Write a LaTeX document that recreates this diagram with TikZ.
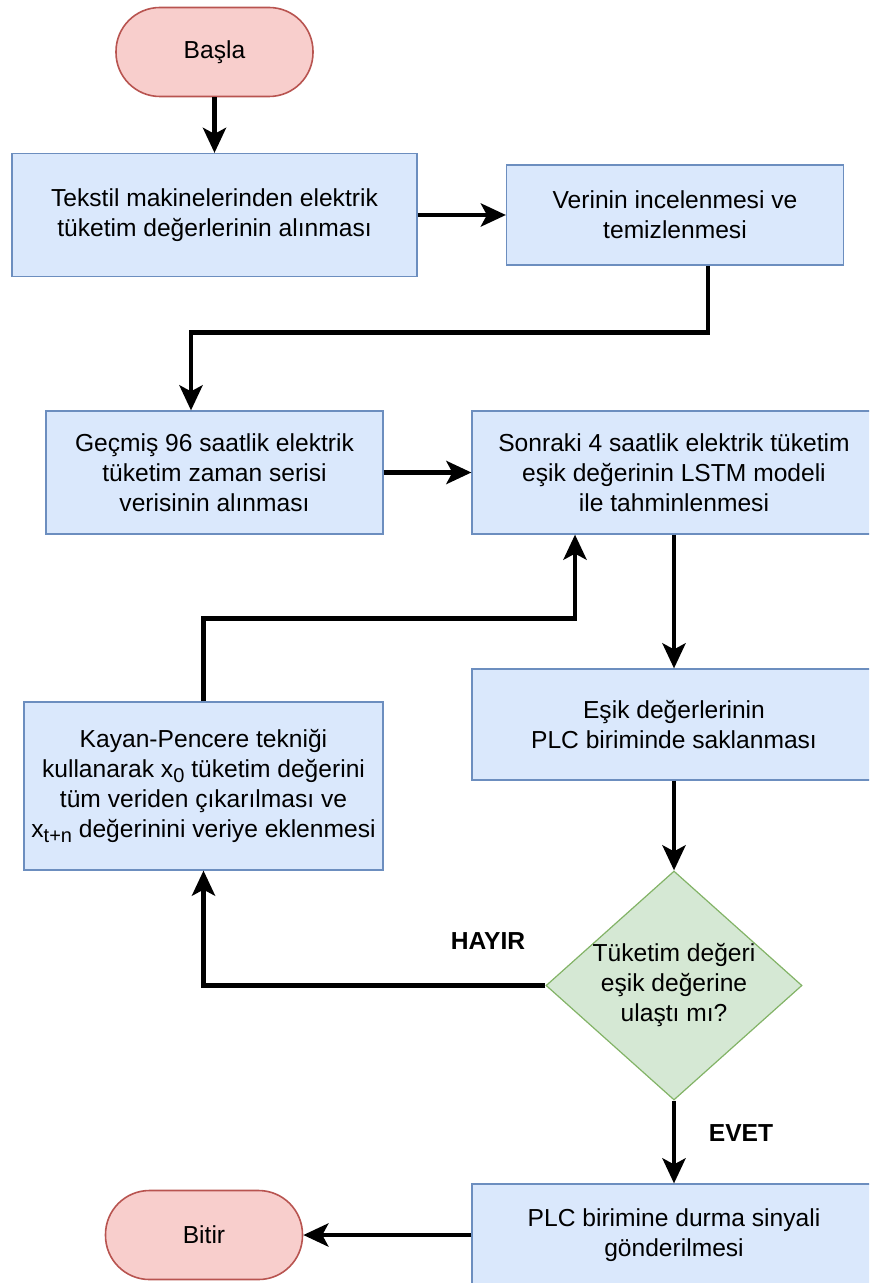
\documentclass[tikz,border=0pt]{standalone}
\usepackage{fontspec}
\setmainfont{Liberation Sans}
\usetikzlibrary{shapes.geometric,arrows.meta}

\definecolor{kutuDolgu}{HTML}{DAE8FC}
\definecolor{kutuCizgi}{HTML}{6C8EBF}
\definecolor{ucDolgu}{HTML}{F8CECC}
\definecolor{ucCizgi}{HTML}{B85450}
\definecolor{kararDolgu}{HTML}{D5E8D4}
\definecolor{kararCizgi}{HTML}{82B366}

\newcommand{\altindis}[1]{\raisebox{-0.45ex}{\fontsize{10}{10}\selectfont #1}}

\begin{document}
\begin{tikzpicture}[x=0.5pt, y=-0.5pt,
            every node/.style={font=\fontsize{12.3}{15}\selectfont},
            kutu/.style={draw=kutuCizgi, fill=kutuDolgu, line width=0.6pt, align=center, inner sep=0pt},
            uc/.style={draw=ucCizgi, fill=ucDolgu, line width=0.8pt, rounded corners=22pt,
                    minimum width=98.5pt, minimum height=44.5pt},
            karar/.style={diamond, draw=kararCizgi, fill=kararDolgu, line width=0.6pt, aspect=1.12,
                    inner sep=0pt, minimum width=128pt, minimum height=114.5pt, align=center},
            ok/.style={line width=2.4pt, -{Stealth[length=12.5pt, width=11.5pt, inset=3pt]}},
            etiket/.style={font=\fontsize{12.3}{15}\selectfont\bfseries}]
            \clip (0,0) rectangle (869,1283);

            \node[uc] (basla) at (214.5,52) {Başla};
            \node[kutu, minimum width=202.5pt, minimum height=61.5pt] (tekstil) at (214.5,215)
                {Tekstil makinelerinden elektrik\\tüketim değerlerinin alınması};
            \node[kutu, minimum width=168.5pt, minimum height=50pt] (temizle) at (675,215)
                {Verinin incelenmesi ve\\temizlenmesi};

            \node[kutu, minimum width=168.5pt, minimum height=61.5pt] (gecmis) at (214.5,472.5)
                {Geçmiş 96 saatlik elektrik\\tüketim zaman serisi\\verisinin alınması};
            \node[kutu, minimum width=202pt, minimum height=61.5pt] (tahmin) at (674,472.5)
                {Sonraki 4 saatlik elektrik tüketim\\eşik değerinin LSTM modeli\\ile tahminlenmesi};

            \node[kutu, minimum width=202pt, minimum height=55.5pt] (sakla) at (674,724.5)
                {Eşik değerlerinin\\PLC biriminde saklanması};
            \node[kutu, minimum width=179.5pt, minimum height=84pt] (kayan) at (203.5,786)
                {Kayan-Pencere tekniği\\kullanarak x\altindis{0} tüketim değerini\\tüm veriden çıkarılması ve\\x\altindis{t+n} değerinini veriye eklenmesi};

            \node[karar] (esik) at (674,985.5) {Tüketim değeri\\eşik değerine\\ulaştı mı?};
            \node[kutu, minimum width=202pt, minimum height=51pt] (durma) at (674,1235)
                {PLC birimine durma sinyali\\gönderilmesi};
            \node[uc] (bitir) at (204,1235) {Bitir};

            \node[etiket] (hayir) at (488,941) {HAYIR};
            \node[etiket] (evet) at (741,1133) {EVET};

            % akis oklari
            \draw[ok] (basla) -- (tekstil);
            \draw[ok] (tekstil) -- (temizle);
            \draw[ok] ([xshift=16.5pt]temizle.south) -- ++(0,67) -| ([xshift=-11.75pt]gecmis.north);
            \draw[ok] (gecmis) -- (tahmin);
            \draw[ok] (tahmin) -- (sakla);
            \draw[ok] (kayan.north) -- ++(0,-83) -| ([xshift=-49.5pt]tahmin.south);
            \draw[ok] (sakla) -- (esik);
            \draw[ok] (esik.west) -| (kayan.south);
            \draw[ok] (esik) -- (durma);
            \draw[ok] (durma) -- (bitir);
        \end{tikzpicture}
\end{document}
